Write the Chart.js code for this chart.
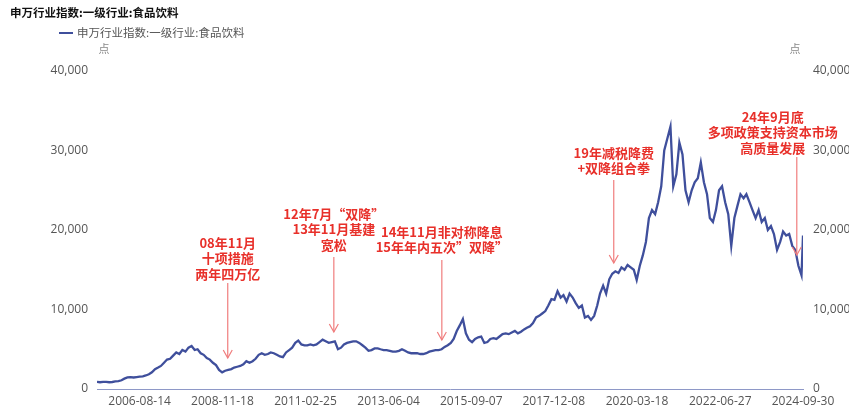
<!DOCTYPE html>
<html><head><meta charset="utf-8">
<script src="https://cdn.jsdelivr.net/npm/chart.js@4/dist/chart.umd.min.js"></script>
<style>html,body{margin:0;padding:0;background:#fff}</style>
</head><body>
<canvas id="c" width="849" height="411"></canvas>
<script>
const chartTitle = '申万行业指数:一级行业:食品饮料';
const seriesName = '申万行业指数:一级行业:食品饮料';
const unitLabel = '点';
const startYear = 2005, startMonth = 6; // first monthly observation
// monthly (mid-month) index levels, 2005-06 .. 2024-09
const monthlyValues = [
  900, 850, 900, 900, 850, 880, 950,
  1000, 1100, 1300, 1450, 1500, 1450, 1500, 1550, 1600, 1700, 1850, 2100,
  2500, 2700, 2900, 3300, 3700, 3800, 4200, 4600, 4400, 4900, 4700, 5200,
  5400, 4900, 5000, 4500, 4300, 3900, 3700, 3300, 3000, 2400, 2100, 2300,
  2400, 2500, 2700, 2800, 2900, 3100, 3500, 3300, 3500, 3800, 4300, 4500,
  4300, 4400, 4600, 4500, 4300, 4100, 4000, 4600, 4900, 5200, 5800, 6100,
  5600, 5500, 5500, 5600, 5500, 5600, 5900, 6200, 6000, 5800, 5900, 6000,
  5000, 5200, 5600, 5800, 5900, 6000, 6000, 5800, 5500, 5200, 4800, 4900,
  5100, 5100, 5000, 4900, 4900, 4800, 4700, 4700, 4800, 5000, 4800, 4600,
  4500, 4500, 4500, 4400, 4400, 4500, 4700, 4800, 4900, 4900, 5000, 5300,
  5500, 5800, 6300, 7300, 8000, 8800, 7000, 6200, 5900, 6300, 6500, 6600,
  5800, 5900, 6300, 6400, 6300, 6600, 6900, 7000, 6900, 7100, 7300, 7000,
  7200, 7500, 7700, 7900, 8300, 9000, 9200, 9500, 9800, 10500, 11300, 11200,
  12300, 11500, 11800, 11000, 12000, 11500, 10800, 10200, 10500, 9000, 9200, 8700,
  9200, 10500, 12000, 13000, 12000, 13800, 14500, 14800, 14600, 15300, 15000, 15600,
  15300, 15000, 13700, 15500, 16800, 18500, 21500, 22500, 22000, 23500, 25500, 30000,
  31500, 33000, 25500, 27000, 31000, 29500, 25000, 23500, 25000, 26000, 26500, 28500,
  26000, 24500, 21500, 21000, 22500, 25000, 25500, 23500, 22000, 18000, 21500, 23000,
  24500, 24000, 24500, 23500, 22500, 21500, 22500, 21000, 21500, 20000, 20500, 19500,
  17500, 18500, 19800, 19300, 19500, 18000, 17500, 15500, 14300
];
const lastDate = '2024-09-30';
const lastValue = 19300;
const xTickLabels = ['2006-08-14','2008-11-18','2011-02-25','2013-06-04','2015-09-07','2017-12-08','2020-03-18','2022-06-27','2024-09-30'];
const yMin = 0, yMax = 40000, yStep = 10000;
const annotations = [
  {date:'2009-01-10', textDate:'2009-01-10', textTop:18365, tail:13333, tip:3900, lines:['08年11月','十项措施','两年四万亿']},
  {date:'2011-12-05', textDate:'2011-12-05', textTop:22013, tail:16604, tip:7170, lines:['12年7月“双降”','13年11月基建','宽松']},
  {date:'2014-11-17', textDate:'2014-11-17', textTop:19748, tail:16226, tip:6164, lines:['14年11月非对称降息','15年年内五次”双降”']},
  {date:'2019-07-30', textDate:'2019-07-30', textTop:29686, tail:26289, tip:15849, lines:['19年减税降费','+双降组合拳']},
  {date:'2024-07-30', textDate:'2023-12-02', textTop:34214, tail:29182, tip:16855, lines:['24年9月底','多项政策支持资本市场','高质量发展']}
];

const FONT = "'Open Sans', 'Noto Sans CJK SC', sans-serif";
const CJK = "'Noto Sans CJK SC', 'Open Sans', sans-serif";
const points = monthlyValues.map((v, i) => ({x: Date.UTC(startYear, startMonth - 1 + i, 15), y: v}));
points.push({x: Date.parse(lastDate), y: lastValue});

const decorPlugin = {
  id: 'decor',
  afterDraw(chart) {
    const ctx = chart.ctx;
    const xs = chart.scales.x, ys = chart.scales.y;
    ctx.save();
    ctx.fillStyle = '#111';
    ctx.font = "bold 11.5px " + CJK;
    ctx.textAlign = 'left'; ctx.textBaseline = 'middle';
    ctx.fillText(chartTitle, 10, 13);
    ctx.strokeStyle = '#3f4f9c'; ctx.lineWidth = 2;
    ctx.beginPath(); ctx.moveTo(59, 33); ctx.lineTo(73, 33); ctx.stroke();
    ctx.fillStyle = '#555';
    ctx.font = "11.5px " + CJK;
    ctx.fillText(seriesName, 77, 33);
    ctx.fillStyle = '#888';
    ctx.font = "11px " + CJK;
    ctx.textAlign = 'center';
    ctx.fillText(unitLabel, 104, 49);
    ctx.fillText(unitLabel, 795, 49);
    annotations.forEach(a => {
      const x = xs.getPixelForValue(Date.parse(a.date));
      const tx = xs.getPixelForValue(Date.parse(a.textDate));
      const y0 = ys.getPixelForValue(a.tail);
      const y1 = ys.getPixelForValue(a.tip);
      const yt = ys.getPixelForValue(a.textTop);
      ctx.strokeStyle = '#f07d7d'; ctx.lineWidth = 1.2;
      ctx.beginPath(); ctx.moveTo(x, y0); ctx.lineTo(x, y1); ctx.stroke();
      ctx.beginPath(); ctx.moveTo(x - 4.5, y1 - 8); ctx.lineTo(x, y1); ctx.lineTo(x + 4.5, y1 - 8); ctx.stroke();
      ctx.fillStyle = '#e8302a';
      ctx.font = "bold 13px " + CJK;
      ctx.textAlign = 'center'; ctx.textBaseline = 'middle';
      a.lines.forEach((t, i) => ctx.fillText(t, tx, yt + i * 15.5));
    });
    ctx.restore();
  }
};

const yTickCfg = (pad) => ({
  stepSize: yStep, padding: pad, color: '#555',
  font: {size: 12, family: FONT},
  callback: v => v.toLocaleString('en-US')
});

new Chart(document.getElementById('c'), {
  type: 'line',
  data: {datasets: [{
    label: seriesName, data: points, borderColor: '#3f4f9c', borderWidth: 2.3,
    pointRadius: 0, tension: 0, fill: false, yAxisID: 'y'
  }]},
  options: {
    responsive: false, animation: false,
    layout: {padding: {left: 0, right: 0, top: 71, bottom: 0}},
    plugins: {legend: {display: false}, title: {display: false}, tooltip: {enabled: false}},
    scales: {
      x: {
        type: 'linear', min: points[0].x, max: Date.parse(lastDate),
        afterBuildTicks: s => { s.ticks = xTickLabels.map(d => ({value: Date.parse(d)})); },
        afterFit: s => { s.height = 22; },
        ticks: {autoSkip: false, maxRotation: 0, padding: 5, color: '#555', font: {size: 12, family: FONT},
          callback: (v, i) => xTickLabels[i]},
        grid: {display: false, drawTicks: false},
        border: {display: true, color: '#8e98c7', width: 1}
      },
      y: {
        position: 'left', min: yMin, max: yMax,
        afterFit: s => { s.width = 97; },
        ticks: yTickCfg(9),
        grid: {display: false, drawTicks: false}, border: {display: false}
      },
      y2: {
        position: 'right', min: yMin, max: yMax,
        afterFit: s => { s.width = 46; },
        ticks: yTickCfg(10),
        grid: {display: false, drawTicks: false}, border: {display: false}
      }
    }
  },
  plugins: [decorPlugin]
});
</script>
</body></html>
